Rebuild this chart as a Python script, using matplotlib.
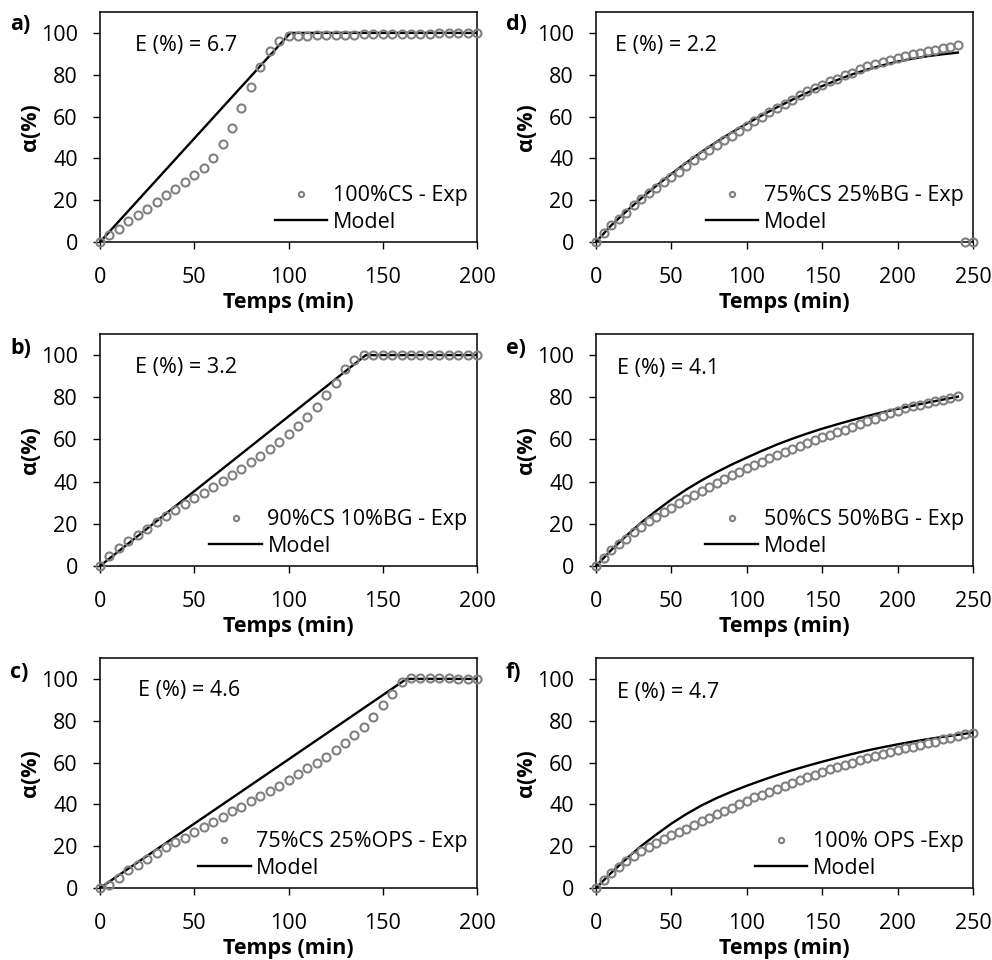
import matplotlib
matplotlib.use("Agg")
import matplotlib.pyplot as plt

plt.rcParams['font.family'] = ['Open Sans', 'DejaVu Sans']

# ---------------- data ----------------
t_a = list(range(0, 201, 5))
exp_a = [0, 3.2, 6.4, 10, 12.8, 16, 19, 22.3, 25.4, 28.7, 32, 35.4, 40.2, 46.7, 54.5, 64.3,
         74.3, 83.7, 91.2, 96.2, 98.4, 98.6, 98.7, 98.8, 98.9, 99.0, 99.1, 99.2, 99.3, 99.3,
         99.4, 99.5, 99.5, 99.6, 99.6, 99.7, 99.8, 99.8, 99.9, 99.9, 100]
mt_a = [0, 101, 200]
mod_a = [0, 100, 100]

t_b = list(range(0, 201, 5))
exp_b = [0, 4.6, 8.3, 11.9, 14.6, 17.6, 20.8, 23.8, 26.5, 29.2, 32.1, 34.8, 37.3, 40.3, 43.2,
         46, 49.2, 52.2, 55.4, 58.6, 62.5, 66.5, 70.6, 75.4, 81.1, 86.8, 93.2, 97.9, 100,
         100, 100, 100, 100, 100, 100, 100, 100, 100, 100, 100, 100]
mt_b = [0, 141, 200]
mod_b = [0, 100, 100]

t_c = list(range(0, 201, 5))
exp_c = [0, 1.6, 5, 8.5, 11.2, 13.7, 16.8, 19.6, 22, 24.1, 26.7, 29.1, 31.5, 34, 36.7, 38.8,
         41.5, 43.9, 46.3, 48.7, 51.6, 54.3, 57.2, 59.9, 62.8, 66, 69.5, 73.2, 77.2, 81.6,
         87.5, 92.8, 98.4, 100.5, 100.5, 100.4, 100.3, 100.2, 100.1, 100, 100]
mt_c = [0, 162.6, 200]
mod_c = [0, 100, 100]

t_d = list(range(0, 251, 5))
exp_d = [0, 4.5, 8.3, 11.2, 14, 17.5, 20.4, 23.4, 25.8, 28.7, 31.1, 33.5, 36.4, 39.1, 41.5,
         43.9, 46.3, 48.6, 50.7, 53, 55.3, 57.7, 59.8, 62.2, 64.1, 66.2, 68.1, 70.2, 72.1,
         73.7, 75.3, 76.9, 78.1, 79.7, 81, 82.6, 84, 85, 86.1, 87.2, 88.2, 89, 89.8, 90.6,
         91.2, 92, 92.7, 93.3, 94.1, 0, 0]
mt_d = list(range(0, 241, 10))
mod_d = [0, 7.9, 14.6, 20.9, 26.9, 32.6, 38.0, 43.1, 47.9, 52.4, 56.6, 60.6, 64.4, 68.0,
         71.4, 74.6, 77.5, 80.2, 82.5, 84.5, 86.3, 87.7, 88.9, 89.8, 90.6]

t_e = list(range(0, 241, 5))
exp_e = [0, 4, 7.5, 10.3, 13, 15.9, 18.6, 21.1, 23.3, 25.4, 27.6, 29.7, 31.7, 33.8, 35.7,
         37.6, 39.5, 41.3, 43, 44.8, 46.3, 47.9, 49.5, 51.1, 52.7, 54.1, 55.6, 57, 58.3,
         59.8, 61.1, 62.2, 63.5, 64.6, 65.9, 67.3, 68.6, 69.8, 71.3, 72.5, 73.7, 74.8,
         75.7, 76.5, 77.3, 78.1, 78.9, 79.7, 80.5]
mt_e = list(range(0, 241, 10))
mod_e = [0, 7.5, 14.3, 20.6, 26.2, 31.5, 36.3, 40.6, 44.5, 48.1, 51.4, 54.6, 57.6, 60.3,
         62.8, 65.1, 67.2, 69.2, 71.1, 72.9, 74.5, 76.0, 77.5, 78.9, 80.3]

t_f = list(range(0, 251, 5))
exp_f = [0, 4, 7.3, 10, 12.9, 15.2, 17.6, 19.6, 21.6, 23.3, 25.2, 26.8, 28.4, 30.2, 31.9,
         33.7, 35.3, 36.9, 38.5, 40.1, 41.7, 43.3, 44.7, 46, 47.4, 49, 50.3, 51.6, 52.9,
         54.2, 55.4, 56.7, 57.8, 58.9, 59.9, 61, 62, 62.9, 63.9, 64.9, 66, 66.8, 67.6,
         68.4, 69.2, 70, 71.1, 71.9, 72.7, 73.5, 74.3]
mt_f = list(range(0, 251, 10))
mod_f = [0, 7.2, 13.9, 20.1, 25.6, 30.8, 35.4, 39.5, 43.0, 46.1, 48.9, 51.5, 54.0, 56.3,
         58.4, 60.4, 62.3, 64.1, 65.8, 67.3, 68.7, 70.0, 71.2, 72.3, 73.3, 74.3]

panel_labels = ['a)', 'b)', 'c)', 'd)', 'e)', 'f)']
errors = ['6.7', '3.2', '4.6', '2.2', '4.1', '4.7']
series_names = ['100%CS - Exp', '90%CS 10%BG - Exp', '75%CS 25%OPS - Exp',
                '75%CS 25%BG - Exp', '50%CS 50%BG - Exp', '100% OPS -Exp']
xmax = [200, 200, 200, 250, 250, 250]
x_ticks = [[0, 50, 100, 150, 200]] * 3 + [[0, 50, 100, 150, 200, 250]] * 3
y_ticks = [0, 20, 40, 60, 80, 100]

exp_t = [t_a, t_b, t_c, t_d, t_e, t_f]
exp_v = [exp_a, exp_b, exp_c, exp_d, exp_e, exp_f]
mod_t = [mt_a, mt_b, mt_c, mt_d, mt_e, mt_f]
mod_v = [mod_a, mod_b, mod_c, mod_d, mod_e, mod_f]

# ---------------- layout ----------------
W, H = 992, 960
fig = plt.figure(figsize=(W / 100, H / 100), dpi=100)
lefts = [100, 100, 100, 596, 596, 596]
tops = [12, 334, 658, 12, 334, 658]
bottoms = [242, 566, 888, 242, 566, 888]
axw = 377
e_pos = [(0.093, 0.855), (0.093, 0.856), (0.10, 0.86), (0.05, 0.855), (0.056, 0.85), (0.056, 0.85)]
lab_y = [25, 348, 672, 25, 348, 672]
lab_x = [10, 10, 10, 506, 506, 506]

FS = 15.5
for i in range(6):
    ax = fig.add_axes([lefts[i] / W, 1 - bottoms[i] / H, axw / W, (bottoms[i] - tops[i]) / H])
    ax.plot(mod_t[i], mod_v[i], color='black', lw=1.7, label='Model', zorder=2)
    ax.plot(exp_t[i], exp_v[i], ls='none', marker='o', ms=5.8, mfc='none', mec='#808080',
            mew=1.5, label=series_names[i], zorder=3, clip_on=False)
    ax.set_xlim(0, xmax[i])
    ax.set_ylim(0, 110)
    ax.set_xticks(x_ticks[i])
    ax.set_yticks(y_ticks)
    ax.tick_params(direction='out', length=5, width=1, labelsize=FS, top=False, right=False,
                   colors='black')
    ax.tick_params(axis='x', pad=13)
    ax.tick_params(axis='y', pad=11)
    for s in ax.spines.values():
        s.set_linewidth(1.1)
        s.set_color('black')
    ax.set_xlabel('Temps (min)', fontsize=FS, fontweight='bold', labelpad=3)
    ax.set_ylabel('α(%)', fontsize=FS, fontweight='bold', labelpad=0)
    ax.text(e_pos[i][0], e_pos[i][1], 'E (%) = ' + errors[i], transform=ax.transAxes,
            fontsize=FS, va='center', ha='left')
    h, l = ax.get_legend_handles_labels()
    ax.legend([h[1], h[0]], [l[1], l[0]], loc='lower right', frameon=False, fontsize=FS,
              handlelength=2.45, handletextpad=0.25, labelspacing=0.25, borderaxespad=0.33,
              borderpad=0.1, markerscale=0.65)
    fig.text(lab_x[i] / W, 1 - lab_y[i] / H, panel_labels[i], fontsize=FS, fontweight='bold',
             va='center', ha='left')

fig.savefig('out.png', dpi=100)
